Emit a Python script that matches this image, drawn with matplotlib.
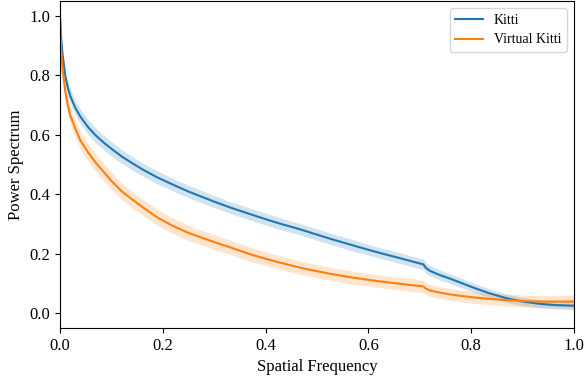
import numpy as np
import matplotlib
matplotlib.use("Agg")
import matplotlib.pyplot as plt

plt.rcParams['font.family'] = ['Liberation Serif', 'DejaVu Serif']

freq = [0.0, 0.002, 0.005, 0.01, 0.015, 0.02, 0.03, 0.04, 0.055, 0.07, 0.0875,
        0.1, 0.12, 0.14, 0.162, 0.19, 0.22, 0.25, 0.272, 0.3, 0.33, 0.37, 0.4,
        0.43, 0.467, 0.5, 0.53, 0.564, 0.6, 0.63, 0.661, 0.685, 0.707, 0.712,
        0.72, 0.739, 0.759, 0.78, 0.804, 0.835, 0.869, 0.9, 0.934, 0.965, 1.0]
kitti = [1.0, 0.93, 0.87, 0.80, 0.76, 0.73, 0.69, 0.66, 0.625, 0.597, 0.57,
         0.553, 0.527, 0.505, 0.482, 0.456, 0.432, 0.409, 0.394, 0.375, 0.356,
         0.333, 0.316, 0.300, 0.282, 0.264, 0.248, 0.231, 0.213, 0.199, 0.185,
         0.174, 0.164, 0.152, 0.142, 0.128, 0.116, 0.102, 0.086, 0.067, 0.050,
         0.039, 0.031, 0.027, 0.025]
kitti_std = [0.0, 0.01, 0.015, 0.02, 0.022, 0.024, 0.025, 0.025, 0.025, 0.025,
             0.024, 0.024, 0.023, 0.023, 0.022, 0.022, 0.021, 0.021, 0.021, 0.02,
             0.02, 0.02, 0.02, 0.02, 0.019, 0.019, 0.019, 0.019, 0.018, 0.018,
             0.018, 0.018, 0.018, 0.018, 0.017, 0.017, 0.016, 0.016, 0.015, 0.015,
             0.014, 0.014, 0.013, 0.013, 0.013]
vkitti = [1.0, 0.89, 0.82, 0.75, 0.70, 0.665, 0.62, 0.58, 0.54, 0.505, 0.47,
          0.445, 0.41, 0.383, 0.355, 0.321, 0.293, 0.270, 0.256, 0.239, 0.222,
          0.198, 0.183, 0.169, 0.153, 0.141, 0.131, 0.121, 0.112, 0.105, 0.099,
          0.094, 0.090, 0.082, 0.076, 0.069, 0.063, 0.058, 0.053, 0.048, 0.044,
          0.041, 0.039, 0.039, 0.039]
vkitti_std = [0.0, 0.015, 0.02, 0.025, 0.028, 0.03, 0.03, 0.03, 0.03, 0.03,
              0.03, 0.029, 0.028, 0.028, 0.027, 0.027, 0.026, 0.026, 0.025,
              0.025, 0.024, 0.024, 0.023, 0.023, 0.022, 0.022, 0.022, 0.022,
              0.021, 0.021, 0.021, 0.021, 0.021, 0.021, 0.02, 0.02, 0.02, 0.02,
              0.02, 0.02, 0.02, 0.02, 0.02, 0.021, 0.022]

x = np.array(freq)
k = np.array(kitti); ks = np.array(kitti_std)
v = np.array(vkitti); vs = np.array(vkitti_std)

fig = plt.figure(figsize=(5.87, 3.81), dpi=100)
ax = fig.add_axes([60/587, 1-328/381, (574-60)/587, (328-1)/381])

ax.plot(x, k, color='#1f77b4', lw=1.5, label='Kitti')
ax.fill_between(x, k-ks, k+ks, color='#1f77b4', alpha=0.2, lw=0)
ax.plot(x, v, color='#ff7f0e', lw=1.5, label='Virtual Kitti')
ax.fill_between(x, v-vs, v+vs, color='#ff7f0e', alpha=0.2, lw=0)

ax.set_xlim(0, 1)
ax.set_ylim(-0.05, 1.05)
ax.set_xticks([0.0, 0.2, 0.4, 0.6, 0.8, 1.0])
ax.set_yticks([0.0, 0.2, 0.4, 0.6, 0.8, 1.0])
ax.tick_params(labelsize=12)
ax.set_xlabel('Spatial Frequency', fontsize=12)
ax.set_ylabel('Power Spectrum', fontsize=12)
ax.legend(loc='upper right', fontsize=10)

fig.savefig('out.png', dpi=100)
